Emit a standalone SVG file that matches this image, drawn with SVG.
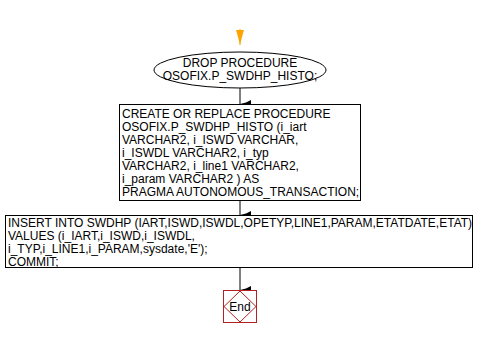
<svg xmlns="http://www.w3.org/2000/svg" width="478" height="337" viewBox="0 0 478 337">
  <style>
    .shape { fill: #ffffff; stroke: #000000; stroke-width: 1; }
    .label { font-family: "Liberation Sans", Arial, sans-serif; font-size: 12px; fill: #000000; }
    .edge { stroke: #000000; stroke-width: 1; fill: none; }
  </style>
  <defs>
    <marker id="arrow" markerWidth="8" markerHeight="12" refX="4" refY="11" orient="auto-start-reverse" markerUnits="userSpaceOnUse" viewBox="0 0 8 12">
      <path d="M0,0 L8,0 L5.5,5 L4,11 L2.5,5 Z" fill="#000000"/>
    </marker>
  </defs>
  <rect width="478" height="337" fill="#ffffff"/>

  <g id="connectors">
    <path d="M240,29 L240,45" stroke="#ffa500" stroke-width="1"/>
    <path d="M236,30 L244,30 L242,37 L240,45 L238,37 Z" fill="#ffa500"/>
    <path class="edge" d="M240,88 L240,104" marker-end="url(#arrow)"/>
    <path class="edge" d="M240,201 L240,215" marker-end="url(#arrow)"/>
    <path class="edge" d="M240,268 L240,290" marker-end="url(#arrow)"/>
  </g>

  <g id="drop">
    <ellipse class="shape" cx="240" cy="70" rx="86" ry="18"/>
    <text class="label" x="240" y="67" text-anchor="middle">DROP PROCEDURE</text>
    <text class="label" x="240" y="80" text-anchor="middle">OSOFIX.P_SWDHP_HISTO;</text>
  </g>

  <g id="create">
    <rect class="shape" x="119.5" y="104.5" width="241" height="96"/>
    <text class="label">
      <tspan x="122" y="118">CREATE OR REPLACE PROCEDURE</tspan>
      <tspan x="122" y="131">OSOFIX.P_SWDHP_HISTO (i_iart</tspan>
      <tspan x="122" y="144">VARCHAR2, i_ISWD VARCHAR,</tspan>
      <tspan x="122" y="157">i_ISWDL VARCHAR2, i_typ</tspan>
      <tspan x="122" y="170">VARCHAR2, i_line1 VARCHAR2,</tspan>
      <tspan x="122" y="183">i_param VARCHAR2 ) AS</tspan>
      <tspan x="122" y="196">PRAGMA AUTONOMOUS_TRANSACTION;</tspan>
    </text>
  </g>

  <g id="insert">
    <rect class="shape" x="5.5" y="215.5" width="467" height="52"/>
    <text class="label">
      <tspan x="8" y="227">INSERT INTO SWDHP (IART,ISWD,ISWDL,OPETYP,LINE1,PARAM,ETATDATE,ETAT)</tspan>
      <tspan x="8" y="240">VALUES (i_IART,i_ISWD,i_ISWDL,</tspan>
      <tspan x="8" y="253">i_TYP,i_LINE1,i_PARAM,sysdate,'E');</tspan>
      <tspan x="8" y="266">COMMIT;</tspan>
    </text>
  </g>

  <g id="end">
    <rect x="223.5" y="290.5" width="33" height="32" fill="#ffffff" stroke="#b22222" stroke-width="1"/>
    <path d="M240,291 L256,306.5 L240,322 L224,306.5 Z" fill="none" stroke="#b22222" stroke-width="1"/>
    <text x="240" y="311" text-anchor="middle" font-family="Liberation Sans, Arial, sans-serif" font-size="12px" fill="#000000">End</text>
  </g>
</svg>
